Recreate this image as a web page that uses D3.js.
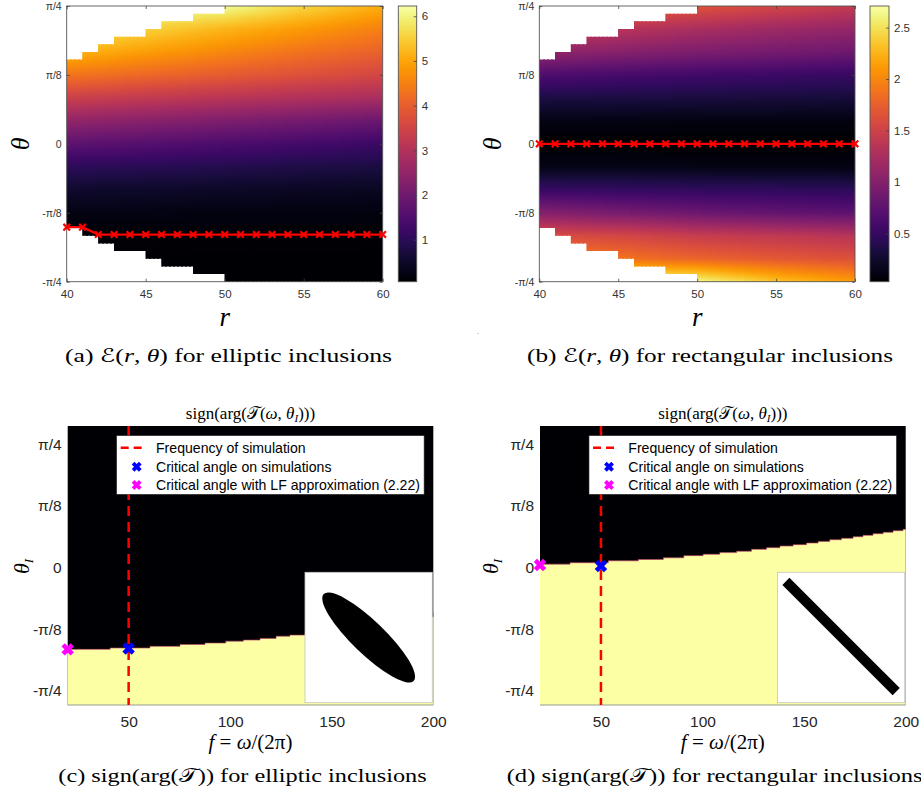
<!DOCTYPE html>
<html><head><meta charset="utf-8">
<script src="https://cdn.jsdelivr.net/npm/d3@7"></script>
<style>body{margin:0;background:#fff} svg{display:block}</style>
</head><body>
<svg id="fig" width="921" height="796"></svg>
<script>
// ------------------------- DATA -------------------------
const rNodes = [40, 45, 50, 55, 60];
const thetaNodes = [45, 37.5, 30, 22.5, 15, 7.5, 0, -7.5, -15, -22.5, -30, -37.5, -45]; // degrees
// E(r, theta), elliptic inclusions (rows: thetaNodes, cols: rNodes)
const energyElliptic = [
  [6.20, 6.20, 6.15, 5.60, 5.10],
  [5.90, 5.55, 5.20, 4.85, 4.50],
  [5.20, 4.90, 4.60, 4.30, 4.05],
  [4.35, 4.15, 3.95, 3.75, 3.55],
  [3.40, 3.25, 3.10, 2.97, 2.85],
  [2.50, 2.35, 2.20, 2.05, 1.90],
  [1.70, 1.58, 1.45, 1.32, 1.20],
  [1.00, 0.94, 0.88, 0.80, 0.75],
  [0.55, 0.52, 0.48, 0.45, 0.42],
  [0.27, 0.26, 0.24, 0.23, 0.22],
  [0.13, 0.125, 0.12, 0.115, 0.11],
  [0.08, 0.078, 0.075, 0.072, 0.07],
  [0.06, 0.06, 0.06, 0.06, 0.06]
];
// E(r, theta), rectangular inclusions
const energyRect = [
  [1.90, 1.80, 1.66, 1.55, 1.42],
  [1.50, 1.35, 1.25, 1.17, 1.10],
  [1.10, 1.02, 0.95, 0.90, 0.85],
  [0.65, 0.60, 0.56, 0.53, 0.50],
  [0.34, 0.33, 0.32, 0.31, 0.30],
  [0.12, 0.12, 0.11, 0.11, 0.11],
  [0.03, 0.03, 0.03, 0.03, 0.03],
  [0.14, 0.14, 0.13, 0.13, 0.12],
  [0.50, 0.48, 0.46, 0.45, 0.44],
  [1.00, 0.92, 0.84, 0.78, 0.74],
  [1.60, 1.55, 1.45, 1.40, 1.34],
  [2.00, 1.88, 1.78, 1.70, 1.63],
  [2.71, 2.68, 2.65, 2.33, 2.12]
];
const colorDomainElliptic = [0.06, 6.23];
const colorDomainRect = [0.03, 2.71];
const maskColumnsR = [40,41,42,43,44,45,46,47,48,49,50,51,52,53,54,55,56,57,58,59];
const maskThetaMax = [27.5,30,32.5,35,35,37.5,40,40,42.5,42.5,45,45,45,45,45,45,45,45,45,45];
const lineR = [40,41,42,43,44,45,46,47,48,49,50,51,52,53,54,55,56,57,58,59,60];
const lineThetaElliptic = [-27.2,-27.2,-29.6,-29.6,-29.6,-29.6,-29.6,-29.6,-29.6,-29.6,-29.6,-29.6,-29.6,-29.6,-29.6,-29.6,-29.6,-29.6,-29.6,-29.6,-29.6];
const lineThetaRect = [0,0,0,0,0,0,0,0,0,0,0,0,0,0,0,0,0,0,0,0,0];
const rTicks = [40, 45, 50, 55, 60];
const thetaTicks = [45, 22.5, 0, -22.5, -45];
const thetaTickLabels = ["\u03c0/4", "\u03c0/8", "0", "-\u03c0/8", "-\u03c0/4"];
const cbTicksElliptic = [1, 2, 3, 4, 5, 6];
const cbTicksRect = [0.5, 1, 1.5, 2, 2.5];

const freqTicks = [50, 100, 150, 200];
const boundaryFreqC  = [20, 40.9, 60.5, 75.3, 87.6, 97.8, 106.5, 114.7, 122.6, 129.4, 136.8, 143, 155, 167, 178, 189, 200];
const boundaryThetaC = [-29.8, -29.3, -28.7, -28.0, -27.5, -26.8, -26.4, -25.8, -25.0, -24.6, -24.0, -23.4, -22.2, -20.8, -19.4, -17.9, -16.4];
const boundaryFreqD  = [20, 34.8, 53.6, 68.4, 80.7, 90.8, 100.3, 108.5, 116.8, 124.1, 131.5, 138.1, 144.6, 151.2, 156.9, 162.6, 168.4, 174.1, 179.0, 183.9, 188.9, 193.8, 198.7, 200];
const boundaryThetaD = [1.3, 1.8, 2.5, 3.0, 3.6, 4.4, 4.9, 5.5, 6.0, 6.7, 7.3, 7.9, 8.4, 9.0, 9.6, 10.2, 10.7, 11.3, 11.8, 12.4, 12.9, 13.5, 14.0, 14.0];
const simulationFreq = 50;
const critSimC = [50, -29.5], critLFC = [20, -29.8];
const critSimD = [50, 0.6],   critLFD = [20, 1.0];
const legendLabels = ["Frequency of simulation", "Critical angle on simulations", "Critical angle with LF approximation (2.22)"];

// ------------------------- DRAWING -------------------------
const svg = d3.select("#fig");
const defs = svg.append("defs");
const SERIF = "'Liberation Serif','Times New Roman',serif";
const SANS = "'Liberation Sans',Arial,Helvetica,sans-serif";
const MATHF = "'DejaVu Serif','DejaVu Sans','Noto Sans',serif";

function rich(g, parts, attrs) {
  const t = g.append("text");
  Object.entries(attrs).forEach(([k, v]) => t.attr(k, v));
  parts.forEach(p => {
    const s = t.append("tspan").text(p.t);
    if (p.it) s.attr("font-style", "italic");
    if (p.sub) s.attr("baseline-shift", "-28%").attr("font-size", p.sub);
    if (p.font) s.attr("font-family", p.font);
  });
  return t;
}

function styleAxis(g, size, fill) {
  g.select(".domain").remove();
  g.selectAll(".tick line").attr("stroke", "#444").attr("stroke-width", 0.8);
  g.selectAll(".tick text").attr("font-family", SANS).attr("font-size", size).attr("fill", fill);
}

function topPanel(cfg) {
  const { x0, x1, y0, y1, cb0, cb1, values, cdom, cbTicks, lineTheta, id } = cfg;
  const x = d3.scaleLinear().domain([40, 60]).range([x0, x1]);
  const y = d3.scaleLinear().domain([-45, 45]).range([y1, y0]);
  const color = d3.scaleSequential(d3.interpolateInferno).domain(cdom);

  // mask (valid region) as clip path
  let pd = "";
  maskColumnsR.forEach((r, i) => {
    pd += `M${x(r)},${y(maskThetaMax[i])}H${x(r + 1)}V${y(-maskThetaMax[i])}H${x(r)}Z`;
  });
  defs.append("clipPath").attr("id", id + "clip").append("path").attr("d", pd);

  const rowInterp = values.map(row => d3.scaleLinear().domain(rNodes).range(row));
  const sub = 4;
  const cols = d3.range(40, 60, 1 / sub);
  const hm = svg.append("g").attr("clip-path", `url(#${id}clip)`);
  cols.forEach((r, k) => {
    const rc = r + 0.5 / sub;
    const vals = rowInterp.map(f => f(rc));
    const gid = id + "g" + k;
    const grad = defs.append("linearGradient").attr("id", gid)
      .attr("gradientUnits", "userSpaceOnUse")
      .attr("x1", 0).attr("x2", 0).attr("y1", y(45)).attr("y2", y(-45));
    for (let j = 0; j < thetaNodes.length; j++) {
      const last = j === thetaNodes.length - 1;
      const steps = last ? 1 : 6;
      for (let s = 0; s < steps; s++) {
        const u = s / steps;
        const th = last ? thetaNodes[j] : thetaNodes[j] + (thetaNodes[j + 1] - thetaNodes[j]) * u;
        const v = last ? vals[j] : vals[j] + (vals[j + 1] - vals[j]) * u;
        grad.append("stop").attr("offset", (45 - th) / 90).attr("stop-color", color(v));
      }
    }
    const xa = Math.floor(x(r)), xb = Math.ceil(x(r + 1 / sub));
    hm.append("rect").attr("x", xa).attr("y", Math.floor(y0))
      .attr("width", xb - xa + 1).attr("height", Math.ceil(y1 - y0) + 1)
      .attr("shape-rendering", "crispEdges")
      .attr("fill", `url(#${gid})`);
  });

  // axes box
  svg.append("rect").attr("x", x0).attr("y", y0).attr("width", x1 - x0).attr("height", y1 - y0)
    .attr("fill", "none").attr("stroke", "#555").attr("stroke-width", 0.9);
  const ax = svg.append("g").attr("transform", `translate(0,${y1})`)
    .call(d3.axisBottom(x).tickValues(rTicks).tickSize(-3).tickSizeOuter(0).tickPadding(8));
  styleAxis(ax, 11.5, "#333");
  const axt = svg.append("g").attr("transform", `translate(0,${y0})`)
    .call(d3.axisTop(x).tickValues(rTicks).tickSize(-3).tickSizeOuter(0).tickFormat(""));
  styleAxis(axt, 11, "#333");
  const ay = svg.append("g").attr("transform", `translate(${x0},0)`)
    .call(d3.axisLeft(y).tickValues(thetaTicks).tickFormat((d, i) => thetaTickLabels[i]).tickSize(-3).tickSizeOuter(0).tickPadding(5));
  styleAxis(ay, 10.5, "#333");
  const ayr = svg.append("g").attr("transform", `translate(${x1},0)`)
    .call(d3.axisRight(y).tickValues(thetaTicks).tickSize(-3).tickSizeOuter(0).tickFormat(""));
  styleAxis(ayr, 10, "#333");

  // red line with markers
  const pts = lineR.map((r, i) => [r, lineTheta[i]]);
  svg.append("path").attr("d", d3.line().x(d => x(d[0])).y(d => y(d[1]))(pts))
    .attr("fill", "none").attr("stroke", "#ff0000").attr("stroke-width", 2.3);
  svg.append("g").selectAll("path").data(pts).join("path")
    .attr("transform", d => `translate(${x(d[0])},${y(d[1])})`)
    .attr("d", d3.symbol().type(d3.symbolTimes).size(30))
    .attr("fill", "none").attr("stroke", "#ff0000").attr("stroke-width", 2.2);

  // colorbar
  const cy = d3.scaleLinear().domain(cdom).range([y1, y0]);
  const cg = defs.append("linearGradient").attr("id", id + "cb")
    .attr("x1", 0).attr("x2", 0).attr("y1", 1).attr("y2", 0);
  d3.range(0, 1.0001, 0.02).forEach(t => cg.append("stop").attr("offset", t).attr("stop-color", d3.interpolateInferno(t)));
  svg.append("rect").attr("x", cb0).attr("y", y0).attr("width", cb1 - cb0).attr("height", y1 - y0)
    .attr("fill", `url(#${id}cb)`).attr("stroke", "#555").attr("stroke-width", 0.9);
  const ac = svg.append("g").attr("transform", `translate(${cb1},0)`)
    .call(d3.axisRight(cy).tickValues(cbTicks).tickFormat(d => String(d)).tickSize(-3).tickSizeOuter(0).tickPadding(5));
  styleAxis(ac, 11.5, "#333");

  // labels
  const xm = (x0 + x1) / 2;
  svg.append("text").attr("x", xm).attr("y", 326).attr("text-anchor", "middle")
    .attr("font-family", SERIF).attr("font-style", "italic").attr("font-size", 27).text("r");
  svg.append("text").attr("transform", `translate(${cfg.ylabX},${(y0 + y1) / 2}) rotate(-90)`)
    .attr("text-anchor", "middle").attr("dy", "0.35em")
    .attr("font-family", SERIF).attr("font-style", "italic").attr("font-size", 26).text("\u03b8");
  rich(svg, [
    { t: cfg.tag + " " }, { t: "\u2130", font: MATHF }, { t: "(" }, { t: "r", it: true }, { t: ", " },
    { t: "\u03b8", it: true }, { t: ") for " + cfg.kind + " inclusions" }
  ], { x: cfg.capX, y: 362, "font-family": SERIF, "font-size": 19, textLength: cfg.capW, lengthAdjust: "spacingAndGlyphs" });
}

function bottomPanel(cfg) {
  const { x0, x1, y0, y1, bf, bt, sim, lf, id } = cfg;
  const x = d3.scaleLinear().domain([20, 200]).range([x0, x1]);
  const y = d3.scaleLinear().domain([-50.1, 51.7]).range([y1, y0]);
  const black = d3.interpolateInferno(0), yellow = d3.interpolateInferno(1);
  svg.append("rect").attr("x", x0).attr("y", y0).attr("width", x1 - x0).attr("height", y1 - y0).attr("fill", black);
  const pts = bf.map((f, i) => [f, bt[i]]);
  svg.append("path").attr("d", d3.area().curve(d3.curveStepAfter).x(d => x(d[0])).y0(y1).y1(d => y(d[1]))(pts))
    .attr("fill", yellow);
  svg.append("path").attr("d", d3.line().curve(d3.curveStepAfter).x(d => x(d[0])).y(d => y(d[1]))(pts))
    .attr("fill", "none").attr("stroke", "#c0406a").attr("stroke-width", 0.8).attr("stroke-opacity", 0.8);
  svg.append("line").attr("x1", x0).attr("x2", x1).attr("y1", y1).attr("y2", y1).attr("stroke", "#999").attr("stroke-width", 1);

  const ax = svg.append("g").attr("transform", `translate(0,${y1})`)
    .call(d3.axisBottom(x).tickValues(freqTicks).tickSize(0).tickPadding(11));
  styleAxis(ax, 15.5, "#262626");
  const ay = svg.append("g").attr("transform", `translate(${x0},0)`)
    .call(d3.axisLeft(y).tickValues(thetaTicks).tickFormat((d, i) => thetaTickLabels[i]).tickSize(0).tickPadding(6));
  styleAxis(ay, 15.5, "#262626");

  // simulation frequency
  svg.append("line").attr("x1", x(simulationFreq)).attr("x2", x(simulationFreq)).attr("y1", y0).attr("y2", y1)
    .attr("stroke", "#ff0000").attr("stroke-width", 2.5).attr("stroke-dasharray", "10,6");

  // inset
  const ix0 = x1 - 128.3, iy0 = y1 - 132.7, iw = 127.3, ih = 130.4;
  const ig = svg.append("g").attr("transform", `translate(${ix0},${iy0})`);
  ig.append("rect").attr("width", iw).attr("height", ih).attr("fill", "#fff").attr("stroke", "#c4c4c4").attr("stroke-width", 0.8);
  if (cfg.shape === "ellipse") {
    ig.append("ellipse").attr("transform", `translate(${iw / 2},${ih / 2}) rotate(44)`)
      .attr("rx", 62.5).attr("ry", 16.5).attr("fill", "#000");
  } else {
    ig.append("rect").attr("transform", `translate(${iw / 2},${ih / 2 - 1}) rotate(45)`)
      .attr("x", -78).attr("y", -5).attr("width", 156).attr("height", 10).attr("fill", "#000");
  }

  // markers
  const xmark = (g, cx, cy, h, w, col) => g.append("path")
    .attr("d", `M${cx - h},${cy - h}L${cx + h},${cy + h}M${cx - h},${cy + h}L${cx + h},${cy - h}`)
    .attr("stroke", col).attr("stroke-width", w).attr("fill", "none");
  xmark(svg, x(sim[0]), y(sim[1]), 4.6, 4.6, "#0000ff");
  xmark(svg, x(lf[0]), y(lf[1]), 4.6, 4.6, "#ff00ff");

  // legend
  const lx = x0 + 49, ly = y0 + 9.7;
  const lg = svg.append("g").attr("transform", `translate(${lx},${ly})`);
  lg.append("rect").attr("width", 307.4).attr("height", 58.6).attr("fill", "#fff").attr("stroke", "#333").attr("stroke-width", 0.6);
  const rows = [12, 31, 49.3];
  lg.append("line").attr("x1", 4).attr("x2", 30).attr("y1", rows[0]).attr("y2", rows[0])
    .attr("stroke", "#ff0000").attr("stroke-width", 2.5).attr("stroke-dasharray", "8,5");
  xmark(lg, 20, rows[1], 3.6, 3.8, "#0000ff");
  xmark(lg, 20, rows[2], 3.6, 3.8, "#ff00ff");
  legendLabels.forEach((t, i) => lg.append("text").attr("x", 39.3).attr("y", rows[i]).attr("dy", "0.36em")
    .attr("font-family", SANS).attr("font-size", 14.1).attr("fill", "#000").text(t));

  // title
  const xm = (x0 + x1) / 2;
  rich(svg, [
    { t: "sign(arg(" }, { t: "\ud835\udcaf", font: MATHF }, { t: "(" }, { t: "\u03c9", it: true }, { t: ", " },
    { t: "\u03b8", it: true }, { t: "I", it: true, sub: 11 }, { t: ")))" }
  ], { x: xm, y: 419, "text-anchor": "middle", "font-family": SERIF, "font-size": 17 });
  // x label
  rich(svg, [
    { t: "f", it: true }, { t: " = " }, { t: "\u03c9", it: true }, { t: "/(2\u03c0)" }
  ], { x: xm, y: 749, "text-anchor": "middle", "font-family": SERIF, "font-size": 21 });
  // y label
  rich(svg, [{ t: "\u03b8", it: true }, { t: "I", it: true, sub: 13 }],
    { transform: `translate(${cfg.ylabX},${(y0 + y1) / 2 + 1}) rotate(-90)`, "text-anchor": "middle", dy: "0.35em",
      "font-family": SERIF, "font-size": 22 });
  // caption
  rich(svg, [
    { t: cfg.tag + " sign(arg(" }, { t: "\ud835\udcaf", font: MATHF }, { t: ")) for " + cfg.kind + " inclusions" }
  ], { x: cfg.capX, y: 782, "font-family": SERIF, "font-size": 19, textLength: cfg.capW, lengthAdjust: "spacingAndGlyphs" });
}

topPanel({ id: "a", x0: 66.7, x1: 382.7, y0: 6, y1: 281.7, cb0: 398.3, cb1: 416.7,
  values: energyElliptic, cdom: colorDomainElliptic, cbTicks: cbTicksElliptic, lineTheta: lineThetaElliptic,
  ylabX: 20, tag: "(a)", kind: "elliptic", capX: 65, capW: 327 });
topPanel({ id: "b", x0: 539.3, x1: 855, y0: 6, y1: 281.7, cb0: 870, cb1: 889,
  values: energyRect, cdom: colorDomainRect, cbTicks: cbTicksRect, lineTheta: lineThetaRect,
  ylabX: 492, tag: "(b)", kind: "rectangular", capX: 527, capW: 366 });
bottomPanel({ id: "c", x0: 67.7, x1: 433.3, y0: 426, y1: 705, bf: boundaryFreqC, bt: boundaryThetaC,
  sim: critSimC, lf: critLFC, shape: "ellipse", ylabX: 21, tag: "(c)", kind: "elliptic", capX: 58.3, capW: 368.4 });
bottomPanel({ id: "d", x0: 540, x1: 905.7, y0: 426, y1: 705, bf: boundaryFreqD, bt: boundaryThetaD,
  sim: critSimD, lf: critLFD, shape: "bar", ylabX: 490, tag: "(d)", kind: "rectangular", capX: 506.7, capW: 416 });

svg.append("text").attr("x", 477).attr("y", 334).attr("font-family", SANS).attr("font-size", 8).attr("fill", "#777").text(".");
</script>
</body></html>
